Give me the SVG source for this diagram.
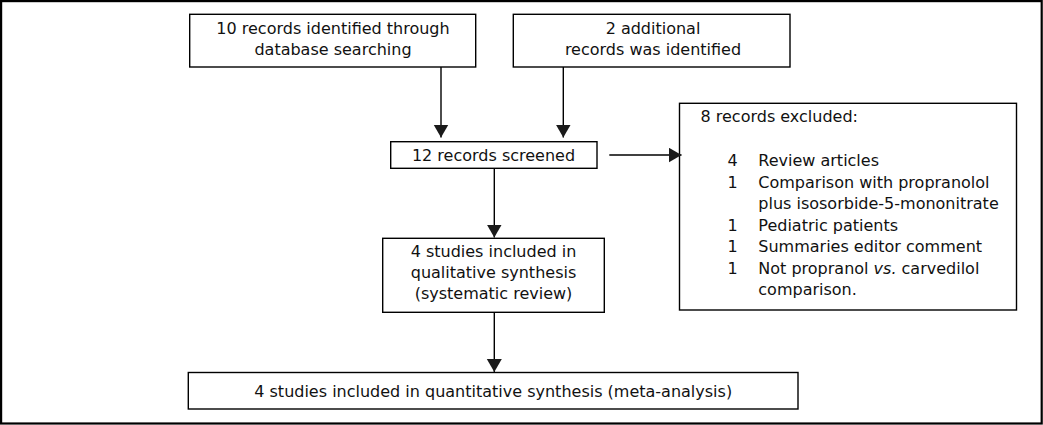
<svg xmlns="http://www.w3.org/2000/svg" width="1043" height="425" viewBox="0 0 1043 425">
<style>
  .box { fill: #ffffff; stroke: #000000; stroke-width: 1.4; }
  .frame { fill: #ffffff; stroke: #000000; stroke-width: 2.2; }
  .t { font-family: "DejaVu Sans", Verdana, sans-serif; font-size: 16px; fill: #111111; }
  .c { text-anchor: middle; }
  .link { stroke: #000000; stroke-width: 1.4; fill: none; marker-end: url(#arrow); }
</style>
<defs>
  <marker id="arrow" markerUnits="userSpaceOnUse" markerWidth="14" markerHeight="16" refX="13" refY="7.5" orient="auto" viewBox="0 0 14 16">
    <path d="M0,0 L13,7.5 L0,15 Z" fill="#1a1a1a"/>
  </marker>
</defs>
<rect class="frame" x="1.1" y="1.1" width="1040.6" height="422.4"/>

<g id="node-database">
  <rect class="box" x="189.7" y="14.3" width="286" height="52.7"/>
  <text class="t c" x="333" y="34">10 records identified through</text>
  <text class="t c" x="333" y="55">database searching</text>
</g>
<g id="node-additional">
  <rect class="box" x="513.3" y="14.3" width="276.7" height="52.7"/>
  <text class="t c" x="653" y="34">2 additional</text>
  <text class="t c" x="653" y="55">records was identified</text>
</g>
<g id="node-screened">
  <rect class="box" x="390.7" y="141.7" width="206.3" height="26.6"/>
  <text class="t c" x="493.5" y="160.5">12 records screened</text>
</g>
<g id="node-excluded">
  <rect class="box" x="679.5" y="103.3" width="337" height="206.7"/>
  <text class="t" x="700.5" y="122">8 records excluded:</text>
  <text class="t" x="727.5" y="166">4</text>
  <text class="t" x="758.3" y="166">Review articles</text>
  <text class="t" x="727.5" y="187.5">1</text>
  <text class="t" x="758.3" y="187.5">Comparison with propranolol</text>
  <text class="t" x="758.3" y="209">plus isosorbide-5-mononitrate</text>
  <text class="t" x="727.5" y="230.5">1</text>
  <text class="t" x="758.3" y="230.5">Pediatric patients</text>
  <text class="t" x="727.5" y="252">1</text>
  <text class="t" x="758.3" y="252">Summaries editor comment</text>
  <text class="t" x="727.5" y="273.5">1</text>
  <text class="t" x="758.3" y="273.5">Not propranol <tspan font-style="italic">vs.</tspan> carvedilol</text>
  <text class="t" x="758.3" y="294.5">comparison.</text>
</g>
<g id="node-qualitative">
  <rect class="box" x="382.7" y="238.3" width="221.6" height="74"/>
  <text class="t c" x="493.5" y="256.5">4 studies included in</text>
  <text class="t c" x="493.5" y="278">qualitative synthesis</text>
  <text class="t c" x="493.5" y="299">(systematic review)</text>
</g>
<g id="node-quantitative">
  <rect class="box" x="188.3" y="372.5" width="609.7" height="36.5"/>
  <text class="t c" x="493.2" y="396.5">4 studies included in quantitative synthesis (meta-analysis)</text>
</g>

<g id="connectors">
  <line class="link" x1="441" y1="67" x2="441" y2="137.5"/>
  <line class="link" x1="563.3" y1="67" x2="563.3" y2="137.5"/>
  <line class="link" x1="609.3" y1="155" x2="681.5" y2="155"/>
  <line class="link" x1="494.3" y1="168.3" x2="494.3" y2="237.5"/>
  <line class="link" x1="494.3" y1="312.3" x2="494.3" y2="372"/>
</g>
</svg>
